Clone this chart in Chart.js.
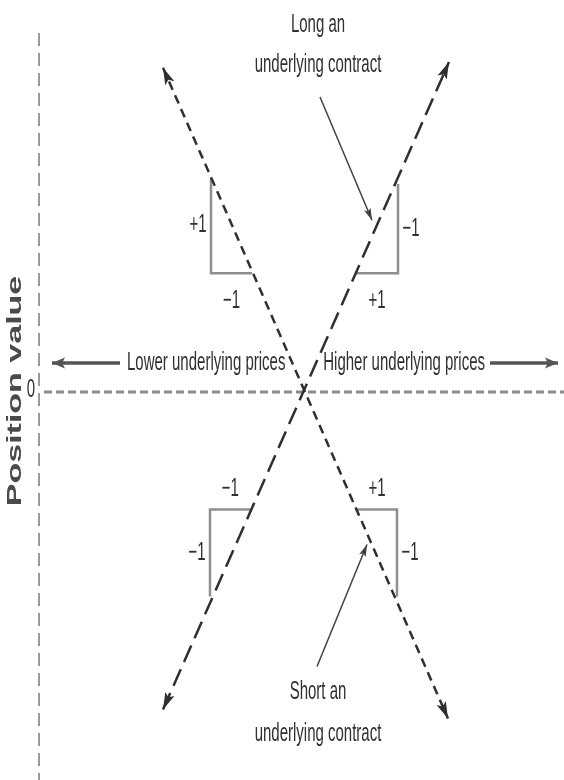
<!DOCTYPE html>
<html>
<head>
<meta charset="utf-8">
<title>Long and short an underlying contract</title>
<script src="https://cdn.jsdelivr.net/npm/chart.js@4.4.1/dist/chart.umd.min.js"></script>
<style>
    html, body { margin: 0; padding: 0; background: #fff; }
    #wrap { position: relative; width: 564px; height: 780px; }
</style>
</head>
<body>
<div id="wrap"><canvas id="payoffChart"></canvas></div>
<script>
// --- 1. DATA ---
const longX = [-2.8, 2.92];
const longY = [-2.81, 2.92];
const shortX = [-2.8, 2.9];
const shortY = [2.87, -2.89];

const zeroLineX = [-5.18, 5.22];
const zeroLineY = [0, 0];

const axisLineX = [-5.28, -5.28];
const axisLineY = [3.177, -3.434];

const yTicks = [0];
const yTickLabels = ['0'];
const yTitle = 'Position value';

// slope triangles: [leg start, corner, leg end]
const triangleX = [[-1.84, -1.84, -1.02], [1.9, 1.9, 1.06], [-1.86, -1.86, -1.05], [1.88, 1.88, 1.08]];
const triangleY = [[1.9, 1.05, 1.05], [1.84, 1.05, 1.05], [-1.81, -1.04, -1.04], [-1.81, -1.04, -1.04]];
const triangleLabels = [['+1', '\u22121'], ['\u22121', '+1'], ['\u22121', '\u22121'], ['\u22121', '+1']];

const priceArrowY = [0.257, 0.257];
const lowerArrowX = [-3.66, -5.02];
const higherArrowX = [3.74, 5.1];
const priceText = ['Lower underlying prices', 'Higher underlying prices'];

const longPointerX = [0.34, 1.38];
const longPointerY = [2.61, 1.52];
const shortPointerX = [0.28, 1.28];
const shortPointerY = [-2.43, -1.35];
const longText = ['Long an', 'underlying contract'];
const shortText = ['Short an', 'underlying contract'];

const pts = (xs, ys) => xs.map((x, i) => ({ x: x, y: ys[i] }));

// --- 2. PLUGINS ---
const TEXT_COLOR = '#303030';
const FAMILY = "'Liberation Sans', Arial, sans-serif";

function tallText(ctx, text, x, y, align) {
    ctx.save();
    ctx.translate(x, y);
    ctx.scale(1, 1.7);
    ctx.font = '15px ' + FAMILY;
    ctx.fillStyle = TEXT_COLOR;
    ctx.textAlign = align || 'center';
    ctx.textBaseline = 'middle';
    ctx.fillText(text, 0, 0);
    ctx.restore();
}

const arrowHeads = {
    id: 'arrowHeads',
    afterDatasetsDraw(chart) {
        const ctx = chart.ctx;
        chart.data.datasets.forEach((ds, i) => {
            if (!ds.arrowEnds) return;
            const p = chart.getDatasetMeta(i).data;
            ds.arrowEnds.forEach(end => {
                const tip = end === 'start' ? p[0] : p[p.length - 1];
                const from = end === 'start' ? p[1] : p[p.length - 2];
                const a = Math.atan2(tip.y - from.y, tip.x - from.x);
                const len = ds.arrowSize[0], half = ds.arrowSize[1];
                ctx.save();
                ctx.translate(tip.x, tip.y);
                ctx.rotate(a);
                ctx.beginPath();
                ctx.moveTo(0, 0);
                ctx.lineTo(-len, -half);
                ctx.lineTo(-len * 0.78, 0);
                ctx.lineTo(-len, half);
                ctx.closePath();
                ctx.fillStyle = ds.borderColor;
                ctx.fill();
                ctx.restore();
            });
        });
    }
};

const labels = {
    id: 'labels',
    afterDraw(chart) {
        const ctx = chart.ctx;
        const xs = chart.scales.x, ys = chart.scales.y;

        // slope triangle labels
        triangleX.forEach((tx, i) => {
            const p = tx.map((x, j) => ({ x: xs.getPixelForValue(x), y: ys.getPixelForValue(triangleY[i][j]) }));
            const side = p[1].x < p[2].x ? -13 : 13;
            tallText(ctx, triangleLabels[i][0], p[1].x + side, (p[0].y + p[1].y) / 2);
            const off = p[1].y > p[0].y ? 28 : -21;
            tallText(ctx, triangleLabels[i][1], (p[1].x + p[2].x) / 2, p[1].y + off);
        });

        // price direction texts
        const lower = chart.getDatasetMeta(2).data[0];
        const higher = chart.getDatasetMeta(3).data[0];
        tallText(ctx, priceText[0], lower.x + 7, lower.y, 'left');
        tallText(ctx, priceText[1], higher.x - 5, higher.y, 'right');

        // pointer annotations
        const lp = chart.getDatasetMeta(4).data[0];
        tallText(ctx, longText[0], lp.x - 2, lp.y - 72);
        tallText(ctx, longText[1], lp.x - 2, lp.y - 32);
        const sp = chart.getDatasetMeta(5).data[0];
        tallText(ctx, shortText[0], sp.x + 1, sp.y + 25);
        tallText(ctx, shortText[1], sp.x + 1, sp.y + 67);

        // y tick labels, drawn with the same tall lettering
        yTicks.forEach((v, i) => {
            tallText(ctx, yTickLabels[i], ys.right - 4, ys.getPixelForValue(v) - 2, 'right');
        });

        // rotated axis title
        ctx.save();
        ctx.translate(15, ys.getPixelForValue(0) - 1);
        ctx.rotate(-Math.PI / 2);
        ctx.scale(1.7, 1);
        ctx.font = 'bold 20px ' + FAMILY;
        ctx.fillStyle = '#4a4a4a';
        ctx.textAlign = 'center';
        ctx.textBaseline = 'middle';
        ctx.fillText(yTitle, 0, 0);
        ctx.restore();
    }
};

// --- 3. CHART ---
const LINE = '#2f2f2f';
const base = { showLine: true, pointRadius: 0, pointHoverRadius: 0, fill: false, clip: false };

const ctx = document.getElementById('payoffChart').getContext('2d');

const datasets = [
    Object.assign({}, base, {
        label: 'Long',
        data: pts(longX, longY),
        borderColor: LINE, borderWidth: 2.5, borderDash: [18, 8],
        arrowEnds: ['start', 'end'], arrowSize: [17, 5]
    }),
    Object.assign({}, base, {
        label: 'Short',
        data: pts(shortX, shortY),
        borderColor: LINE, borderWidth: 2.5, borderDash: [9, 6],
        arrowEnds: ['start', 'end'], arrowSize: [17, 5]
    }),
    Object.assign({}, base, {
        label: 'Lower',
        data: pts(lowerArrowX, priceArrowY),
        borderColor: '#555', borderWidth: 3.5,
        arrowEnds: ['end'], arrowSize: [13, 5.5]
    }),
    Object.assign({}, base, {
        label: 'Higher',
        data: pts(higherArrowX, priceArrowY),
        borderColor: '#555', borderWidth: 3.5,
        arrowEnds: ['end'], arrowSize: [13, 5.5]
    }),
    Object.assign({}, base, {
        label: 'Long pointer',
        data: pts(longPointerX, longPointerY),
        borderColor: '#404040', borderWidth: 1.5,
        arrowEnds: ['end'], arrowSize: [12, 3.5]
    }),
    Object.assign({}, base, {
        label: 'Short pointer',
        data: pts(shortPointerX, shortPointerY),
        borderColor: '#404040', borderWidth: 1.5,
        arrowEnds: ['end'], arrowSize: [12, 3.5]
    })
];

triangleX.forEach((tx, i) => {
    datasets.push(Object.assign({}, base, {
        label: 'Slope ' + (i + 1),
        data: pts(tx, triangleY[i]),
        borderColor: '#8f8f8f', borderWidth: 2.5
    }));
});

datasets.push(Object.assign({}, base, {
    label: 'Zero',
    data: pts(zeroLineX, zeroLineY),
    borderColor: '#8a8a8a', borderWidth: 3, borderDash: [8, 4]
}));

// dashed value axis on the left edge
datasets.push(Object.assign({}, base, {
    label: 'Axis',
    data: pts(axisLineX, axisLineY),
    borderColor: '#9a9a9a', borderWidth: 2, borderDash: [13, 7]
}));

const chart = new Chart(ctx, {
    type: 'scatter',
    data: { datasets: datasets },
    options: {
        responsive: true,
        maintainAspectRatio: false,
        animation: false,
        events: [],
        layout: { padding: { top: 33, left: 0, right: 0, bottom: 0 } },
        scales: {
            x: { type: 'linear', display: false, min: -5.28, max: 5.22 },
            y: {
                type: 'linear',
                min: -3.434, max: 3.177,
                grid: { display: false, drawTicks: false },
                border: { display: false },
                ticks: { display: false },
                afterBuildTicks(scale) { scale.ticks = yTicks.map(v => ({ value: v })); },
                afterFit(scale) {
                    scale.width = 39;
                    scale.paddingTop = 0;
                    scale.paddingBottom = 0;
                }
            }
        },
        plugins: {
            legend: { display: false },
            tooltip: { enabled: false }
        }
    },
    plugins: [arrowHeads, labels]
});
</script>
</body>
</html>
